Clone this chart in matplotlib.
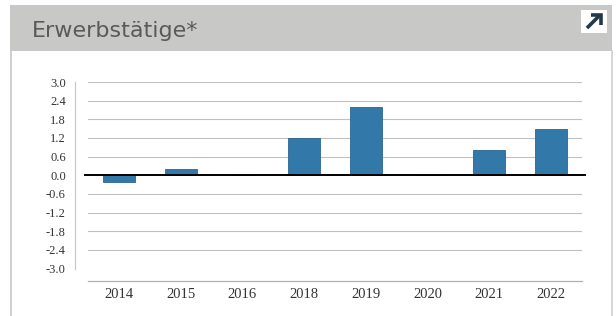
import matplotlib
matplotlib.use("Agg")
import matplotlib.pyplot as plt
from matplotlib.patches import Rectangle
from matplotlib.lines import Line2D
import matplotlib.transforms as mtransforms

# Data
years = ["2014", "2015", "2016", "2018", "2019", "2020", "2021", "2022"]
values = [-0.2, 0.2, 0.0, 1.2, 2.2, 0.0, 0.8, 1.5]
yticks = [3.0, 2.4, 1.8, 1.2, 0.6, 0.0, -0.6, -1.2, -1.8, -2.4, -3.0]
title = "Erwerbstätige*"

W, H = 616, 316
fig = plt.figure(figsize=(W / 100, H / 100), dpi=100)
fig.patch.set_facecolor("white")

def fx(px):
    return px / W

def fy(py):
    return 1 - py / H

# Panel border
fig.add_artist(Line2D([fx(11), fx(11)], [fy(51), fy(316)], color="#c8c8c8", lw=1.2))
fig.add_artist(Line2D([fx(612), fx(612)], [fy(51), fy(316)], color="#d0d0d0", lw=1.2))
# Header band
fig.add_artist(Rectangle((fx(10), fy(51)), fx(612) - fx(10), fy(5) - fy(51),
                         facecolor="#c8c9c6", edgecolor="none"))
fig.text(fx(32), fy(37), title, fontsize=16, color="#5a5a5a",
         family="DejaVu Sans", ha="left", va="baseline")
# Icon
fig.add_artist(Rectangle((fx(581), fy(33)), fx(607) - fx(581), fy(10) - fy(33),
                         facecolor="white", edgecolor="none"))
icon_kw = dict(color="#223a48", lw=2.6, solid_capstyle="butt", solid_joinstyle="miter")
fig.add_artist(Line2D([fx(587), fx(600)], [fy(28), fy(15)], **icon_kw))
fig.add_artist(Line2D([fx(591), fx(601), fx(601)], [fy(15), fy(15), fy(25)], **icon_kw))

# Axes
ax = fig.add_axes([fx(88), fy(281), fx(582) - fx(88), fy(82) - fy(281)])
ax.set_facecolor("white")
x = range(len(years))
ax.bar(x, values, width=0.52, color="#3279aa", edgecolor="#2a6690", lw=0.6, zorder=3)
ax.set_xlim(-0.5, len(years) - 0.5)
ax.set_ylim(-3.4, 3.0)
ax.set_yticks(yticks)
ax.set_yticklabels([f"{v:.1f}" for v in yticks], family="Liberation Serif",
                   fontsize=9, color="#333333")
ax.set_xticks(list(x))
ax.set_xticklabels(years, family="Liberation Serif", fontsize=10.5, color="#333333")
ax.tick_params(axis="y", length=0, pad=16)
ax.tick_params(axis="x", length=0, pad=5)
for s in ["left", "right", "top"]:
    ax.spines[s].set_visible(False)
ax.spines["bottom"].set_color("#b0b0b0")
ax.spines["bottom"].set_linewidth(0.9)

for v in yticks:
    if v in (0.0, -3.0):
        continue
    ax.axhline(v, color="#c0c0c0", lw=0.8, zorder=1)

# zero line
trans = mtransforms.blended_transform_factory(ax.transAxes, ax.transData)
ax.add_line(Line2D([-0.006, 1.006], [0, 0], transform=trans, color="black",
                   lw=1.4, zorder=4, clip_on=False))
# y axis line
ax.add_line(Line2D([-13 / 494, -13 / 494], [3.0, -3.0], transform=trans,
                   color="#c8c8c8", lw=0.9, clip_on=False))

fig.savefig("out.png", dpi=100, facecolor="white")
